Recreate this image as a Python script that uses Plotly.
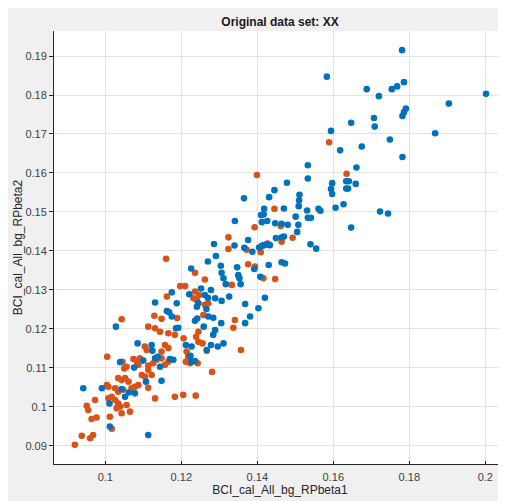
import plotly.graph_objects as go

# ---- data ----
blue_x = [
    0.1781, 0.1583, 0.1688, 0.1720, 0.1754, 0.1768, 0.1786, 0.2002, 0.1904, 0.1791,
    0.1786, 0.1782, 0.1647, 0.1707, 0.1709, 0.1594, 0.1868, 0.1749, 0.1675, 0.1618,
    0.1782, 0.1533, 0.1661, 0.1533, 0.1478, 0.1597, 0.1634, 0.1641, 0.1659, 0.1594,
    0.1634, 0.1639, 0.1597, 0.1511, 0.1510, 0.1509, 0.1470, 0.1531, 0.1561, 0.1566,
    0.1606, 0.1627, 0.1723, 0.1744, 0.1501, 0.1533, 0.1541, 0.1464, 0.1480, 0.1508,
    0.1647, 0.1445, 0.1431, 0.1365, 0.1418, 0.1410, 0.1417, 0.1412, 0.1426, 0.1447,
    0.1505, 0.1449, 0.1464, 0.1470, 0.1540, 0.1555, 0.1376, 0.1387, 0.1405, 0.1412,
    0.1418, 0.1426, 0.1433, 0.1392, 0.1430, 0.1464, 0.1473, 0.1408, 0.1341, 0.1286,
    0.1340, 0.1366, 0.1291, 0.1270, 0.1226, 0.1304, 0.1347, 0.1306, 0.1311, 0.1350,
    0.1353, 0.1317, 0.1356, 0.1420, 0.1403, 0.1381, 0.1368, 0.1368, 0.1175, 0.1221,
    0.1252, 0.1262, 0.1270, 0.1278, 0.1241, 0.1245, 0.1289, 0.1306, 0.1326, 0.1131,
    0.1162, 0.1168, 0.1188, 0.1175, 0.1192, 0.1266, 0.1271, 0.1236, 0.1242, 0.1259,
    0.1284, 0.1305, 0.1289, 0.1284, 0.1278, 0.1296, 0.1311, 0.1267, 0.1212, 0.1227,
    0.1224, 0.1227, 0.1236, 0.1186, 0.1085, 0.1028, 0.1039, 0.1076, 0.1100, 0.1124,
    0.1122, 0.1131, 0.1138, 0.1144, 0.1170, 0.1179, 0.1107, 0.1148, 0.0942, 0.0991,
    0.1043, 0.1062, 0.1078, 0.1052, 0.1011, 0.1012, 0.1113,
]
blue_y = [
    0.1915, 0.1847, 0.1815, 0.1797, 0.1815, 0.1822, 0.1833, 0.1803, 0.1778, 0.1765,
    0.1756, 0.1746, 0.1729, 0.1741, 0.1719, 0.1708, 0.1702, 0.1686, 0.1668, 0.1658,
    0.1641, 0.1620, 0.1614, 0.1586, 0.1575, 0.1574, 0.1579, 0.1579, 0.1572, 0.1559,
    0.1560, 0.1560, 0.1546, 0.1544, 0.1530, 0.1515, 0.1509, 0.1504, 0.1508, 0.1503,
    0.1511, 0.1520, 0.1501, 0.1496, 0.1488, 0.1485, 0.1485, 0.1470, 0.1467, 0.1467,
    0.1460, 0.1556, 0.1538, 0.1535, 0.1508, 0.1492, 0.1494, 0.1474, 0.1477, 0.1471,
    0.1449, 0.1433, 0.1435, 0.1437, 0.1417, 0.1406, 0.1428, 0.1398, 0.1409, 0.1413,
    0.1415, 0.1417, 0.1415, 0.1354, 0.1364, 0.1371, 0.1368, 0.1334, 0.1477, 0.1418,
    0.1414, 0.1408, 0.1387, 0.1373, 0.1355, 0.1362, 0.1358, 0.1344, 0.1330, 0.1338,
    0.1330, 0.1315, 0.1315, 0.1280, 0.1253, 0.1232, 0.1215, 0.1264, 0.1294, 0.1289,
    0.1304, 0.1287, 0.1280, 0.1300, 0.1257, 0.1266, 0.1279, 0.1272, 0.1283, 0.1268,
    0.1246, 0.1243, 0.1266, 0.1232, 0.1203, 0.1251, 0.1232, 0.1221, 0.1227, 0.1206,
    0.1229, 0.1215, 0.1197, 0.1185, 0.1159, 0.1155, 0.1163, 0.1146, 0.1159, 0.1155,
    0.1131, 0.1116, 0.1118, 0.1202, 0.1163, 0.1206, 0.1115, 0.1101, 0.1119, 0.1144,
    0.1159, 0.1125, 0.1129, 0.1103, 0.1123, 0.1121, 0.1065, 0.1067, 0.1048, 0.1048,
    0.1046, 0.1037, 0.1035, 0.1026, 0.1009, 0.0950, 0.0928,
]

orange_x = [
    0.1589, 0.1635, 0.1399, 0.1445, 0.1393, 0.1462, 0.1493, 0.1464, 0.1427, 0.1372,
    0.1409, 0.1376, 0.1394, 0.1416, 0.1447, 0.1160, 0.1324, 0.1324, 0.1236, 0.1333,
    0.1262, 0.1162, 0.1197, 0.1210, 0.1232, 0.1241, 0.1247, 0.1236, 0.1271, 0.1262,
    0.1129, 0.1189, 0.1148, 0.1258, 0.1341, 0.1337, 0.1245, 0.1239, 0.1245, 0.1256,
    0.1206, 0.1113, 0.1131, 0.1144, 0.1166, 0.1183, 0.1357, 0.1281, 0.1238, 0.1214,
    0.1218, 0.1212, 0.1223, 0.1243, 0.1267, 0.1043, 0.1005, 0.1045, 0.1050, 0.1056,
    0.1074, 0.1083, 0.1091, 0.1087, 0.1109, 0.1104, 0.1135, 0.1126, 0.1113, 0.1148,
    0.1166, 0.1157, 0.1148, 0.1157, 0.1166, 0.1104, 0.1096, 0.1113, 0.1122, 0.1034,
    0.1043, 0.1052, 0.1061, 0.1004, 0.1008, 0.1026, 0.1034, 0.1047, 0.1069, 0.1078,
    0.1087, 0.1113, 0.1017, 0.1008, 0.1026, 0.1034, 0.1030, 0.1039, 0.1056, 0.1065,
    0.0973, 0.0951, 0.0955, 0.1131, 0.1183, 0.1205, 0.0977, 0.0964, 0.1012, 0.1043,
    0.1017, 0.0968, 0.0960, 0.0938, 0.0920,
]
orange_y = [
    0.1679, 0.1598, 0.1595, 0.1508, 0.1461, 0.1464, 0.1434, 0.1424, 0.1419, 0.1403,
    0.1397, 0.1366, 0.1360, 0.1330, 0.1328, 0.1380, 0.1435, 0.1405, 0.1344, 0.1313,
    0.1327, 0.1283, 0.1310, 0.1310, 0.1279, 0.1274, 0.1287, 0.1296, 0.1266, 0.1262,
    0.1234, 0.1228, 0.1226, 0.1236, 0.1223, 0.1203, 0.1193, 0.1180, 0.1167, 0.1163,
    0.1176, 0.1206, 0.1202, 0.1193, 0.1189, 0.1185, 0.1146, 0.1090, 0.1029, 0.1142,
    0.1129, 0.1116, 0.1112, 0.1112, 0.1144, 0.1225, 0.1129, 0.1116, 0.1099, 0.1103,
    0.1123, 0.1116, 0.1125, 0.1108, 0.1146, 0.1155, 0.1121, 0.1112, 0.1106, 0.1142,
    0.1151, 0.1159, 0.1125, 0.1108, 0.1116, 0.1078, 0.1082, 0.1095, 0.1082, 0.1074,
    0.1069, 0.1074, 0.1065, 0.1056, 0.1052, 0.1048, 0.1039, 0.1044, 0.1048, 0.1052,
    0.1056, 0.1049, 0.1026, 0.1022, 0.1018, 0.1009, 0.0997, 0.1001, 0.1005, 0.0988,
    0.1018, 0.1003, 0.0992, 0.1022, 0.1026, 0.1031, 0.0973, 0.0969, 0.0975, 0.0984,
    0.0944, 0.0928, 0.0920, 0.0926, 0.0903,
]

x_ticks = [0.1, 0.12, 0.14, 0.16, 0.18, 0.2]
y_ticks = [0.09, 0.1, 0.11, 0.12, 0.13, 0.14, 0.15, 0.16, 0.17, 0.18, 0.19]

title_text = "Original data set: XX"
x_label = "BCI_cal_All_bg_RPbeta1"
y_label = "BCI_cal_All_bg_RPbeta2"

# ---- layout geometry (page body adds an 8px offset) ----
W, H = 498, 493
L, R, T, B = 46, 0, 23, 37

AX = "#262626"
FONT = "Liberation Sans, Arial, Helvetica, sans-serif"

fig = go.Figure()
fig.add_trace(go.Scatter(
    x=orange_x, y=orange_y, mode="markers",
    marker=dict(color="#D95319", size=6.6, line=dict(width=0)),
    showlegend=False, hoverinfo="x+y",
))
fig.add_trace(go.Scatter(
    x=blue_x, y=blue_y, mode="markers",
    marker=dict(color="#0072BD", size=6.6, line=dict(width=0)),
    showlegend=False, hoverinfo="x+y",
))

fig.update_layout(
    width=W, height=H,
    margin=dict(l=L, r=R, t=T, b=B, pad=0, autoexpand=False),
    paper_bgcolor="#f0f0f0",
    plot_bgcolor="white",
    font=dict(family=FONT, size=11, color=AX),
    title=dict(
        text="<b>" + title_text + "</b>",
        x=272 / W, xanchor="center", xref="container",
        y=1 - 13.7 / H, yanchor="middle", yref="container",
        font=dict(family=FONT, size=12, color="#1a1a1a"),
    ),
    xaxis=dict(
        range=[0.0865, 0.20545],
        automargin=False,
        tickvals=x_ticks,
        ticktext=[f"{v:g}" for v in x_ticks],
        showgrid=True, gridcolor="#e3e3e3", gridwidth=1,
        zeroline=False,
        showline=True, linecolor=AX, linewidth=1, mirror=False,
        ticks="inside", ticklen=3, tickcolor=AX,
        ticklabelstandoff=3,
        tickfont=dict(family=FONT, size=11, color="#404040"),
        title=dict(text=x_label, standoff=2,
                   font=dict(family=FONT, size=12, color="#262626")),
    ),
    yaxis=dict(
        range=[0.08538, 0.19641],
        automargin=False,
        tickvals=y_ticks,
        ticktext=[f"{v:g}" for v in y_ticks],
        showgrid=True, gridcolor="#e3e3e3", gridwidth=1,
        zeroline=False,
        showline=True, linecolor=AX, linewidth=1, mirror=False,
        ticks="outside", ticklen=4, tickcolor=AX,
        ticklabelstandoff=0,
        tickfont=dict(family=FONT, size=11, color="#404040"),
        title=dict(text=y_label, standoff=0,
                   font=dict(family=FONT, size=12, color="#262626")),
    ),
)

fig.write_html("out.html")
